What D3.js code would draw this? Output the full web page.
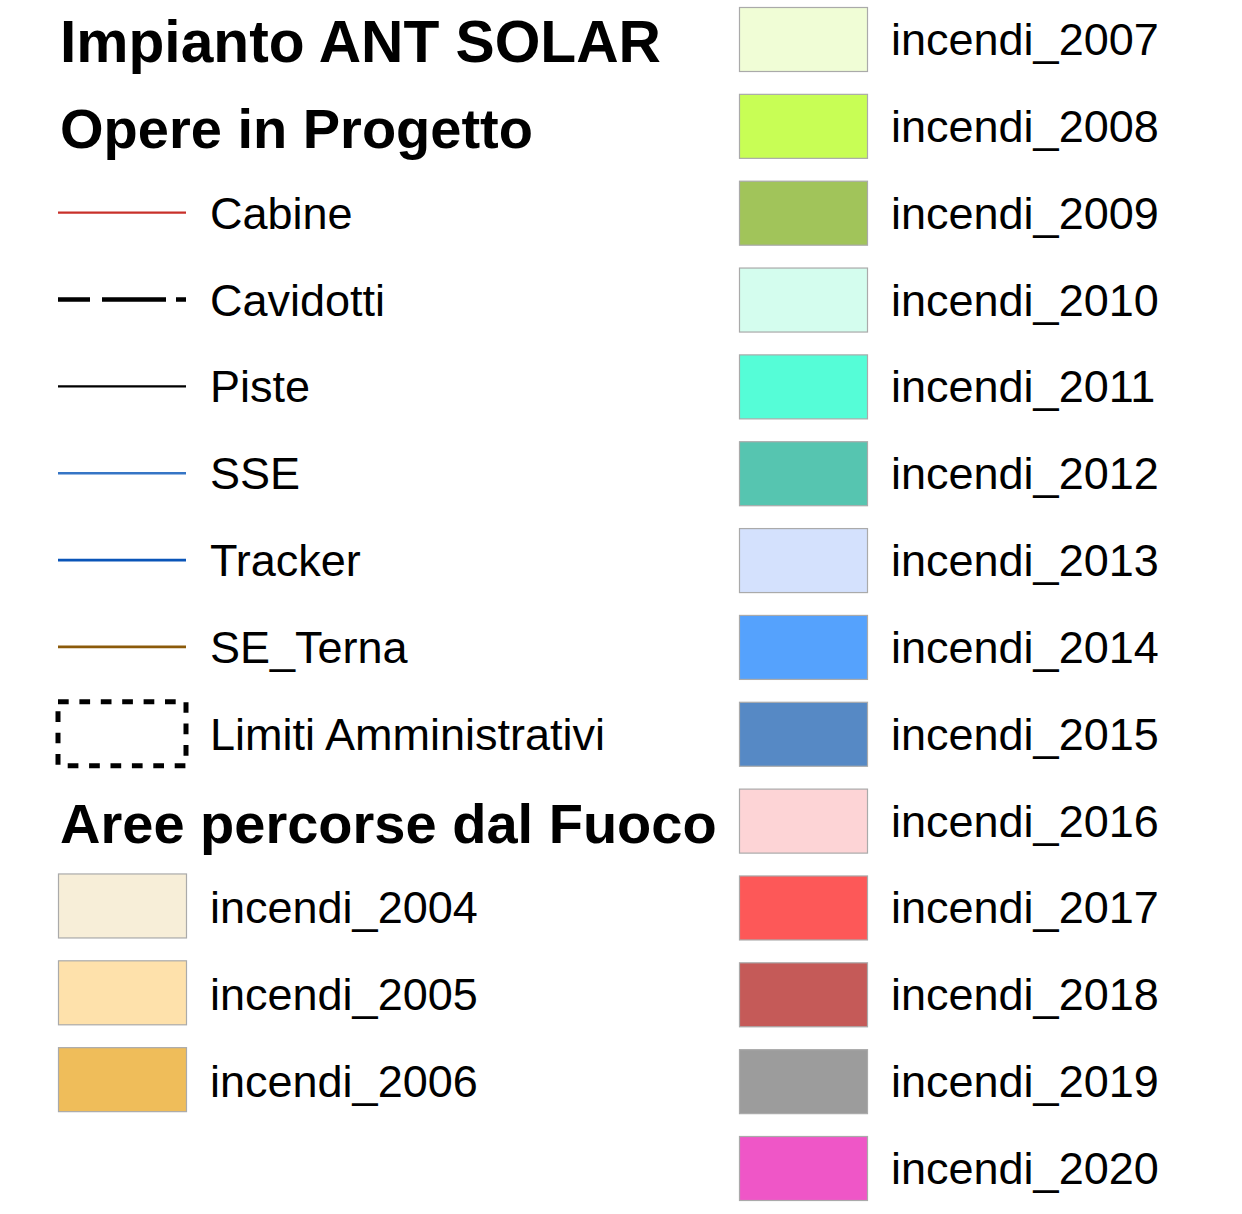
<!DOCTYPE html>
<html>
<head>
<meta charset="utf-8">
<script src="https://cdnjs.cloudflare.com/ajax/libs/d3/7.8.5/d3.min.js"></script>
<style>
  body { margin: 0; background: #fff; }
  text { font-family: "Liberation Sans", Arial, sans-serif; fill: #000; }
  .title { font-size: 56px; font-weight: bold; }
  .label { font-size: 45px; }
</style>
</head>
<body>
<div id="chart"></div>
<script>
// Legend data
var titles = ["Impianto ANT SOLAR", "Opere in Progetto", "Aree percorse dal Fuoco"];
var titleRows = [0, 1, 9];
var titleSizes = [58.7, 56, 56];

var lineNames = ["Cabine", "Cavidotti", "Piste", "SSE", "Tracker", "SE_Terna"];
var lineColors = ["#c8302a", "#000000", "#000000", "#3575c5", "#0a55b8", "#8b5a0a"];
var lineDash = [null, "32 12 64 10", null, null, null, null];
var lineWidths = [2.2, 4.5, 2.2, 2.6, 2.6, 2.6];

var limitName = "Limiti Amministrativi";

var fireYears = ["incendi_2004", "incendi_2005", "incendi_2006", "incendi_2007", "incendi_2008",
  "incendi_2009", "incendi_2010", "incendi_2011", "incendi_2012", "incendi_2013", "incendi_2014",
  "incendi_2015", "incendi_2016", "incendi_2017", "incendi_2018", "incendi_2019", "incendi_2020"];
var fireColors = ["#f7eed8", "#fee1ab", "#efbd5a", "#f0fdd6", "#c8fe55", "#a1c45a", "#d4fdee",
  "#55fdd7", "#56c5b0", "#d4e1fd", "#55a2fd", "#5689c5", "#fdd4d6", "#fd5858", "#c55a58",
  "#9c9c9c", "#ef56c7"];

// Size
var w = 1242;
var h = 1214;

// Row scale: row index -> vertical center
var yScale = d3.scaleLinear()
  .domain([0, 13])
  .range([39, 1168]);

// Column positions
var col = [
  { sym: 58, text: 210 },
  { sym: 739, text: 891 }
];
var symW = 128, symH = 64;

var svg = d3.select("#chart")
  .append("svg")
  .attr("width", w)
  .attr("height", h);

// Titles
svg.selectAll(".title")
  .data(titles)
  .enter().append("text")
  .attr("class", "title")
  .attr("x", 60)
  .attr("y", function(d, i) { return yScale(titleRows[i]) + 22 + (i == 0 ? 1 : 0); })
  .style("font-size", function(d, i) { return titleSizes[i] + "px"; })
  .text(function(d) { return d; });

// Line samples
var lineG = svg.selectAll(".lineItem")
  .data(lineNames)
  .enter().append("g")
  .attr("class", "lineItem")
  .attr("transform", function(d, i) { return "translate(0," + yScale(i + 2) + ")"; });

lineG.append("line")
  .attr("x1", col[0].sym)
  .attr("x2", col[0].sym + symW)
  .attr("y1", 0)
  .attr("y2", 0)
  .style("stroke", function(d, i) { return lineColors[i]; })
  .style("stroke-width", function(d, i) { return lineWidths[i]; })
  .style("stroke-dasharray", function(d, i) { return lineDash[i]; });

lineG.append("text")
  .attr("class", "label")
  .attr("x", col[0].text)
  .attr("y", 16)
  .text(function(d) { return d; });

// Administrative limits (dotted box)
var limG = svg.append("g")
  .attr("transform", "translate(0," + yScale(8) + ")");

limG.append("rect")
  .attr("x", col[0].sym)
  .attr("y", -symH / 2)
  .attr("width", symW)
  .attr("height", symH)
  .style("fill", "none")
  .style("stroke", "#000")
  .style("stroke-width", 5)
  .style("stroke-dasharray", "10.7 10.7");

limG.append("text")
  .attr("class", "label")
  .attr("x", col[0].text)
  .attr("y", 16)
  .text(limitName);

// Fire area swatches: first 3 in left column (rows 10-12), rest in right column (rows 0-13)
function place(i) {
  if (i < 3) return { c: col[0], row: 10 + i };
  return { c: col[1], row: i - 3 };
}

var fireG = svg.selectAll(".fire")
  .data(fireYears)
  .enter().append("g")
  .attr("class", "fire")
  .attr("transform", function(d, i) { return "translate(0," + yScale(place(i).row) + ")"; });

fireG.append("rect")
  .attr("x", function(d, i) { return place(i).c.sym + 0.5; })
  .attr("y", function(d, i) { return -symH / 2 + (i < 3 ? -1.5 : 0.5); })
  .attr("width", symW)
  .attr("height", symH)
  .style("fill", function(d, i) { return fireColors[i]; })
  .style("stroke", "#aaaaaa")
  .style("stroke-width", 1.2);

fireG.append("text")
  .attr("class", "label")
  .attr("x", function(d, i) { return place(i).c.text; })
  .attr("y", 16)
  .text(function(d) { return d; });
</script>
</body>
</html>
